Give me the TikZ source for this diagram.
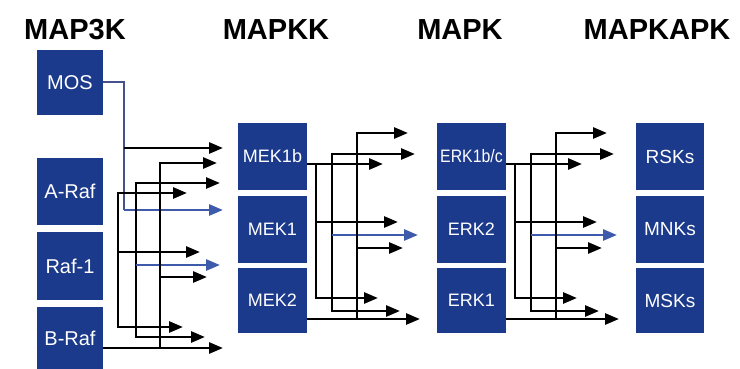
\documentclass[tikz,border=0pt]{standalone}
\usepackage{fontspec}
\setmainfont{Liberation Sans}
\usetikzlibrary{arrows.meta}
\definecolor{boxblue}{RGB}{28,58,140}
\definecolor{arrblue}{RGB}{62,90,170}
\definecolor{mosline}{RGB}{70,82,140}
\tikzset{
  kbox/.style={fill=boxblue, draw=none, inner sep=0pt, minimum width=69pt, text=white,
    font=\fontsize{18}{18}\selectfont},
  lbox/.style={kbox, minimum width=66pt, font=\fontsize{20}{20}\selectfont},
  head/.style={font=\bfseries\fontsize{29}{29}\selectfont, inner sep=0pt},
  wire/.style={line width=2.6pt, black},
  arr/.style={line width=2.6pt, black, -{Triangle[length=14pt,width=11pt]}},
  barr/.style={arr, arrblue},
  mos/.style={line width=2pt, mosline}
}
\newcommand\kgroup[3]{%
\begin{scope}[xshift=#1pt]
  % bus from the top box
  \draw[arr] (#2.east |- 0,164) -- (383,164);
  \draw[arr] (316,164) |- (378,298);
  \draw[arr] (316,222) -- (398,222);
  % middle bus
  \draw[arr] (332,235) |- (415,154);
  \draw[arr] (332,235) |- (400,311);
  \draw[barr] (332,235) -- (418,235);
  % bus from the bottom box
  \draw[arr] (357,248) |- (408,133);
  \draw[arr] (357,248) -- (403,248);
  \draw[wire] (357,248) -- (357,319);
  \draw[arr] (#3.east |- 0,319) -- (420,319);
\end{scope}}
\begin{document}
\begin{tikzpicture}[x=1pt,y=-1pt]
\useasboundingbox (0,0) rectangle (740,369);
% headers
\node[head] (h1) at (75,30) {MAP3K};
\node[head] (h2) at (276,30) {MAPKK};
\node[head] (h3) at (460,30) {MAPK};
\node[head] (h4) at (657,30) {MAPKAPK};
% MAP3K column
\node[lbox, minimum height=65pt] (mos) at (70,82.5) {MOS};
\node[lbox, minimum height=67pt] (araf) at (70,191.5) {A-Raf};
\node[lbox, minimum height=68pt] (raf1) at (70,266) {Raf-1};
\node[lbox, minimum height=62pt] (braf) at (70,338) {B-Raf};
% MAPKK column
\node[kbox, minimum height=67pt] (mek1b) at (272.5,156.5) {MEK1b};
\node[kbox, minimum height=67pt] (mek1) at (272.5,229.5) {MEK1};
\node[kbox, minimum height=65pt] (mek2) at (272.5,300.5) {MEK2};
% MAPK column
\node[kbox, minimum height=67pt] (erk1bc) at (471.5,156.5) {\scalebox{0.88}[1]{ERK1b/c}};
\node[kbox, minimum height=67pt] (erk2) at (471.5,229.5) {ERK2};
\node[kbox, minimum height=65pt] (erk1) at (471.5,300.5) {ERK1};
% MAPKAPK column
\node[kbox, minimum width=68pt, minimum height=67pt, font=\fontsize{19}{19}\selectfont] (rsk) at (670,156.5) {RSKs};
\node[kbox, minimum width=68pt, minimum height=67pt, font=\fontsize{19}{19}\selectfont] (mnk) at (670,229.5) {MNKs};
\node[kbox, minimum width=68pt, minimum height=65pt, font=\fontsize{19}{19}\selectfont] (msk) at (670,300.5) {MSKs};
% MAP3K -> MAPKK
\draw[mos] (mos.east) -| (124,210);
\draw[arr] (124,148) -- (223,148);
\draw[barr] (124,210) -- (223,210);
\draw[arr] (118,252) |- (187,193);
\draw[arr] (118,252) -- (200,252);
\draw[arr] (118,252) |- (183,327);
\draw[arr] (136,265) |- (220,183);
\draw[arr] (136,265) |- (205,337);
\draw[barr] (136,265) -- (220,265);
\draw[arr] (160,277) |- (217,163);
\draw[arr] (160,277) -- (207,277);
\draw[wire] (160,277) -- (160,348);
\draw[arr] (braf.east |- 0,348) -- (223,348);
% MAPKK -> MAPK and MAPK -> MAPKAPK
\kgroup{0}{mek1b}{mek2}
\kgroup{199}{erk1bc}{erk1}
\end{tikzpicture}
\end{document}
